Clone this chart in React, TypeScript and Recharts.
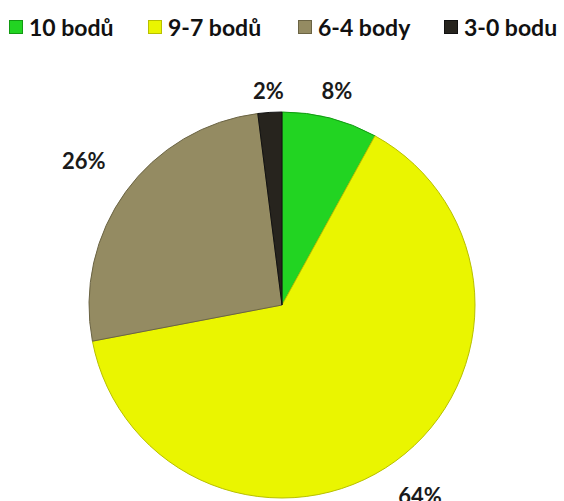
import { Cell, Pie, PieChart } from "recharts";

const categories = ["10 bodů", "9-7 bodů", "6-4 body", "3-0 bodu"];
const shares = [8, 64, 26, 2];
const COLORS = ["#22d422", "#eaf500", "#948b62", "#27241e"];
const EDGES = ["#129a12", "#b8c000", "#6b6444", "#111"];
// how far out each percentage label sits past the rim (Excel "best fit" spacing)
const LABEL_GAP = [28, 42, 52, 22];
const LEGEND_X = [9, 148, 298, 444];

const data = categories.map((name, i) => ({ name, value: shares[i] }));

const FONT = "Lato, 'Open Sans', sans-serif";
const RAD = Math.PI / 180;

function renderLabel(props: any) {
  const { cx, cy, midAngle, outerRadius, value, index } = props;
  const r = outerRadius + LABEL_GAP[index];
  const x = cx + r * Math.cos(-midAngle * RAD);
  const y = cy + r * Math.sin(-midAngle * RAD);
  return (
    <text
      x={x}
      y={y}
      textAnchor="middle"
      dominantBaseline="central"
      fill="#1a1a1a"
      fontFamily={FONT}
      fontWeight={700}
      fontSize={22}
    >
      {`${value}%`}
    </text>
  );
}

export default function App() {
  return (
    <div style={{ position: "absolute", left: 0, top: 0, width: 564, height: 501, background: "#fff", overflow: "hidden" }}>
      {categories.map((c, i) => (
        <div
          key={c}
          style={{
            position: "absolute",
            left: LEGEND_X[i],
            top: 12,
            height: 30,
            display: "flex",
            alignItems: "center",
            fontFamily: FONT,
            fontWeight: 700,
            fontSize: 23,
            color: "#111",
            whiteSpace: "nowrap",
          }}
        >
          <span
            style={{
              display: "inline-block",
              width: 12,
              height: 12,
              background: COLORS[i],
              border: `1px solid ${EDGES[i]}`,
              marginRight: 6,
            }}
          />
          <span>{c}</span>
        </div>
      ))}
      <PieChart width={564} height={501} margin={{ top: 0, right: 0, bottom: 0, left: 0 }}>
        <Pie
          data={data}
          dataKey="value"
          nameKey="name"
          cx={282}
          cy={305}
          outerRadius={193}
          startAngle={90}
          endAngle={-270}
          label={renderLabel}
          labelLine={false}
          isAnimationActive={false}
        >
          {data.map((_, i) => (
            <Cell key={i} fill={COLORS[i]} stroke={EDGES[i]} strokeWidth={1} />
          ))}
        </Pie>
      </PieChart>
    </div>
  );
}
